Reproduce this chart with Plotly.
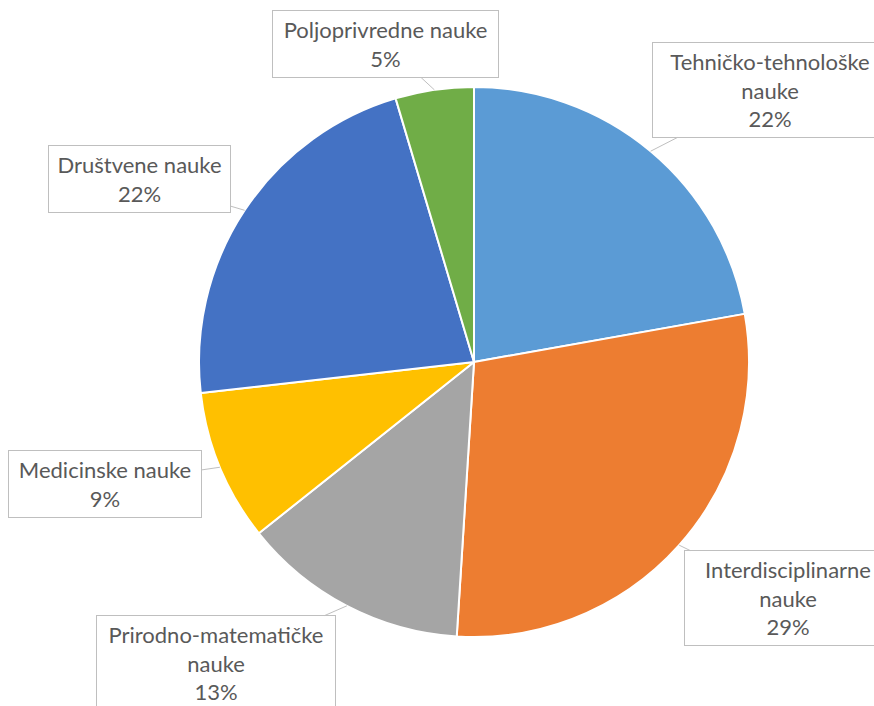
import math
import plotly.graph_objects as go

categories = ["Tehničko-tehnološke nauke", "Interdisciplinarne nauke", "Prirodno-matematičke nauke",
              "Medicinske nauke", "Društvene nauke", "Poljoprivredne nauke"]
label_text = ["Tehničko-tehnološke<br>nauke", "Interdisciplinarne<br>nauke", "Prirodno-matematičke<br>nauke",
              "Medicinske nauke", "Društvene nauke", "Poljoprivredne nauke"]
values = [22.2, 28.8, 13.3, 8.9, 22.2, 4.6]
colors = ["#5B9BD5", "#ED7D31", "#A5A5A5", "#FFC000", "#4472C4", "#70AD47"]

W, H = 874, 706
CX, CY, R = 474, 362, 275

# label box centres and widths (pixels)
box_pos = [(770, 90), (788, 598), (216, 663), (105, 484), (139, 179), (385, 44)]
box_w = [224, 196, 228, 182, 171, 215]

fig = go.Figure()
fig.add_trace(go.Pie(
    labels=categories, values=values, sort=False, direction="clockwise", rotation=0,
    marker=dict(colors=colors, line=dict(color="white", width=2)),
    textinfo="none", hoverinfo="label+percent", showlegend=False,
    domain=dict(x=[(CX - R) / W, (CX + R) / W], y=[(H - CY - R) / H, (H - CY + R) / H]),
))

total = sum(values)
cum = 0.0
annotations = []
for lab, v, (bx, by), bw in zip(label_text, values, box_pos, box_w):
    mid = (cum + v / 2) / total * 2 * math.pi
    cum += v
    tx = CX + R * math.sin(mid)
    ty = CY - R * math.cos(mid)
    pct = round(v / total * 100)
    annotations.append(dict(
        x=tx, y=ty, xref="x", yref="y", ax=bx, ay=by, axref="x", ayref="y",
        text=f"{lab}<br>{pct}%", showarrow=True, arrowhead=0, arrowwidth=1,
        arrowcolor="#BFBFBF", bordercolor="#BFBFBF", borderwidth=1, borderpad=5,
        width=bw, bgcolor="white", font=dict(family="Lato", size=22, color="#595959"),
        align="center",
    ))

fig.update_layout(
    width=W, height=H, margin=dict(l=0, r=0, t=0, b=0),
    paper_bgcolor="white", plot_bgcolor="white",
    xaxis=dict(range=[0, W], visible=False, domain=[0, 1], fixedrange=True),
    yaxis=dict(range=[H, 0], visible=False, domain=[0, 1], fixedrange=True),
    annotations=annotations,
)
fig.write_html("out.html", config={"displayModeBar": False},
               post_script="document.body.style.margin='0';document.body.style.overflow='hidden';")
